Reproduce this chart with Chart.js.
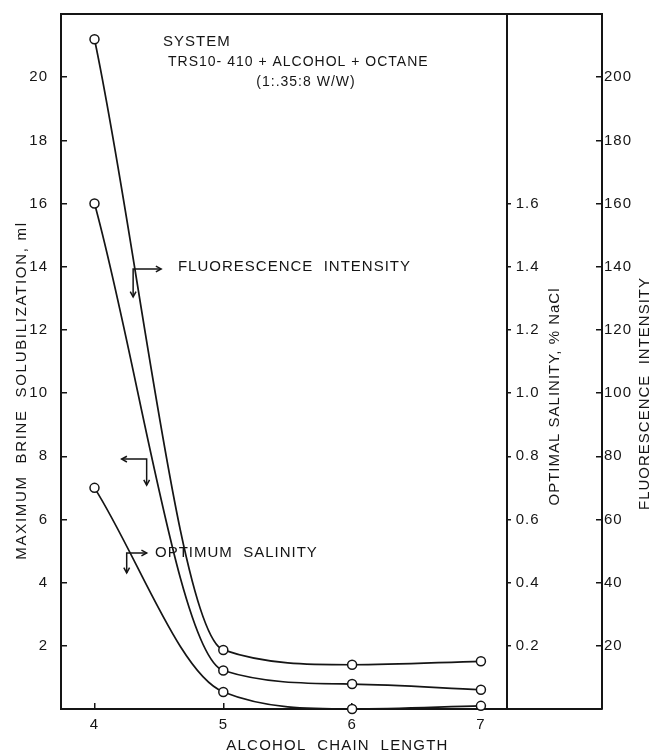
<!DOCTYPE html>
<html>
<head>
<meta charset="utf-8">
<script src="https://cdn.jsdelivr.net/npm/chart.js@4.4.1/dist/chart.umd.min.js"></script>
<style>
  html, body { margin: 0; padding: 0; background: #fff; }
  #wrap { width: 650px; height: 756px; }
</style>
</head>
<body>
<div id="wrap"><canvas id="chart"></canvas></div>
<script>
/* Alcohol chain length vs. solubilization / salinity / fluorescence
   values */

const chainLength  = [4, 5, 6, 7];
const fluorescence = [212, 18.7, 14.0, 15.1];   // right axis
const brineSolub   = [16.0, 1.22, 0.79, 0.61];  // left axis, ml
const optSalinity  = [0.70, 0.054, 0.0, 0.01];  // inner axis, % NaCl

const xTicks   = [4, 5, 6, 7];
const mlTicks  = [2, 4, 6, 8, 10, 12, 14, 16, 18, 20];
const salTicks = [0.2, 0.4, 0.6, 0.8, 1.0, 1.2, 1.4, 1.6];
const fluTicks = [20, 40, 60, 80, 100, 120, 140, 160, 180, 200];

const INK  = "#151515";
const FONT = '"Liberation Sans", Arial, sans-serif';
const SAL_AT = 7.2;   // x position of the inner salinity axis

const onlyTicks = (list) => (scale) => { scale.ticks = list.map(v => ({ value: v })); };
// axes get fixed sizes; no extra room reserved for half-labels
const fixSize = (w, h) => (s) => {
  if (w !== null) s.width = w;
  if (h !== null) s.height = h;
  s.paddingTop = s.paddingBottom = s.paddingLeft = s.paddingRight = 0;
};

/* ── curve → dataset ── */
function series(values, axisId) {
  return {
    data: chainLength.map((x, i) => ({ x, y: values[i] })),
    yAxisID: axisId,
    borderColor: INK,
    borderWidth: 1.7,
    pointRadius: 4.5,
    pointBackgroundColor: "#fff",
    pointBorderColor: INK,
    pointBorderWidth: 1.5,
    cubicInterpolationMode: "monotone",
    clip: false,
  };
}

/* ── annotations (anchored in x / left-axis units) ── */
const notes = [
  { text: "SYSTEM",                          x: 4.532, y: 21.11, align: "left" },
  { text: "TRS10- 410 + ALCOHOL + OCTANE",   x: 4.571, y: 20.48, align: "left", size: 14 },
  { text: "(1:.35:8 W/W)",                   x: 5.642, y: 19.85, align: "center", size: 14 },
  { text: "FLUORESCENCE  INTENSITY",         x: 4.648, y: 13.99, align: "left" },
  { text: "OPTIMUM  SALINITY",               x: 4.470, y: 4.94,  align: "left" },
];
const arrows = [
  { x: 4.300, y: 13.93, dx:  28, dy: 28 },
  { x: 4.405, y: 7.91,  dx: -25, dy: 26 },
  { x: 4.250, y: 4.94,  dx:  20, dy: 20 },
];

function arrowHead(ctx, x, y, ang) {
  const s = 6;
  ctx.beginPath();
  ctx.moveTo(x - s * Math.cos(ang - 0.5), y - s * Math.sin(ang - 0.5));
  ctx.lineTo(x, y);
  ctx.lineTo(x - s * Math.cos(ang + 0.5), y - s * Math.sin(ang + 0.5));
  ctx.stroke();
}

function vText(ctx, text, x, y, spacing) {
  ctx.save();
  ctx.translate(x, y);
  ctx.rotate(-Math.PI / 2);
  ctx.letterSpacing = spacing;
  ctx.fillText(text, 0, 0);
  ctx.restore();
}

const lettering = {
  id: "lettering",
  beforeDraw(chart) {
    chart.ctx.letterSpacing = "1px";
  },
  afterDraw(chart) {
    const { ctx, chartArea: a, scales } = chart;
    const sx = scales.x, sy = scales.y, sal = scales.ySal;
    const salX = sx.getPixelForValue(SAL_AT);
    ctx.save();
    ctx.fillStyle = INK;
    ctx.strokeStyle = INK;
    ctx.lineWidth = 1.5;
    ctx.textBaseline = "middle";

    // salinity tick labels sit to the right of the inner axis
    ctx.font = `15px ${FONT}`;
    ctx.letterSpacing = "1px";
    ctx.textAlign = "left";
    for (const t of sal.ticks) {
      ctx.fillText(t.value.toFixed(1), salX + 9, sal.getPixelForValue(t.value));
    }

    // axis titles
    ctx.textAlign = "center";
    const midY = (a.top + a.bottom) / 2;
    vText(ctx, "MAXIMUM  BRINE  SOLUBILIZATION, ml", sy.left + 22, midY + 29, "1.7px");
    vText(ctx, "OPTIMAL SALINITY, % NaCl", salX + 48, midY + 35, "1px");
    vText(ctx, "FLUORESCENCE  INTENSITY", scales.yFlu.left + 43, midY + 32, "1px");
    ctx.letterSpacing = "1.2px";
    ctx.fillText("ALCOHOL  CHAIN  LENGTH", (a.left + a.right) / 2 + 6, a.bottom + 37);

    // labels inside the plot
    for (const n of notes) {
      ctx.font = `${n.size || 15}px ${FONT}`;
      ctx.letterSpacing = "1px";
      ctx.textAlign = n.align;
      ctx.fillText(n.text, sx.getPixelForValue(n.x), sy.getPixelForValue(n.y));
    }

    // little pointer arrows
    ctx.letterSpacing = "0px";
    for (const ar of arrows) {
      const px = sx.getPixelForValue(ar.x), py = sy.getPixelForValue(ar.y);
      ctx.beginPath();
      ctx.moveTo(px + ar.dx, py);
      ctx.lineTo(px, py);
      ctx.lineTo(px, py + ar.dy);
      ctx.stroke();
      arrowHead(ctx, px + ar.dx, py, ar.dx > 0 ? 0 : Math.PI);
      arrowHead(ctx, px, py + ar.dy, Math.PI / 2);
    }
    ctx.restore();
  },
};

/* ── shared axis styling ── */
const tickFont = { family: FONT, size: 15 };
const axisGrid = { drawOnChartArea: false, tickLength: -6, color: INK, lineWidth: 1.5 };
const axisLine = { color: INK, width: 2 };

new Chart(document.getElementById("chart"), {
  type: "line",
  data: {
    datasets: [
      series(fluorescence, "yFlu"),
      series(brineSolub, "y"),
      series(optSalinity, "ySal"),
    ],
  },
  options: {
    responsive: true,
    maintainAspectRatio: false,
    animation: false,
    layout: { padding: 0 },
    plugins: { legend: { display: false }, tooltip: { enabled: false } },
    scales: {
      x: {
        type: "linear", position: "bottom", min: 3.74, max: 7.94,
        afterBuildTicks: onlyTicks(xTicks),
        afterFit: fixSize(null, 47),
        grid: axisGrid, border: axisLine,
        ticks: { color: INK, font: tickFont, padding: 13, maxRotation: 0 },
      },
      xTop: {
        type: "linear", position: "top", min: 3.74, max: 7.94,
        afterFit: fixSize(null, 14),
        grid: { drawOnChartArea: false, drawTicks: false },
        border: axisLine,
        ticks: { display: false },
      },
      y: {
        position: "left", min: 0, max: 22,
        afterBuildTicks: onlyTicks(mlTicks),
        afterFit: fixSize(61, null),
        grid: axisGrid, border: axisLine,
        ticks: { color: INK, font: tickFont, padding: 19 },
      },
      ySal: {
        position: { x: SAL_AT }, min: 0, max: 2.2,
        afterBuildTicks: onlyTicks(salTicks),
        afterFit: fixSize(null, null),
        grid: { ...axisGrid, tickLength: -5 },
        border: axisLine,
        ticks: { display: false },
      },
      yFlu: {
        position: "right", min: 0, max: 220,
        afterBuildTicks: onlyTicks(fluTicks),
        afterFit: fixSize(48, null),
        grid: axisGrid, border: axisLine,
        ticks: { color: INK, font: tickFont, padding: 8 },
      },
    },
  },
  plugins: [lettering],
});
</script>
</body>
</html>
